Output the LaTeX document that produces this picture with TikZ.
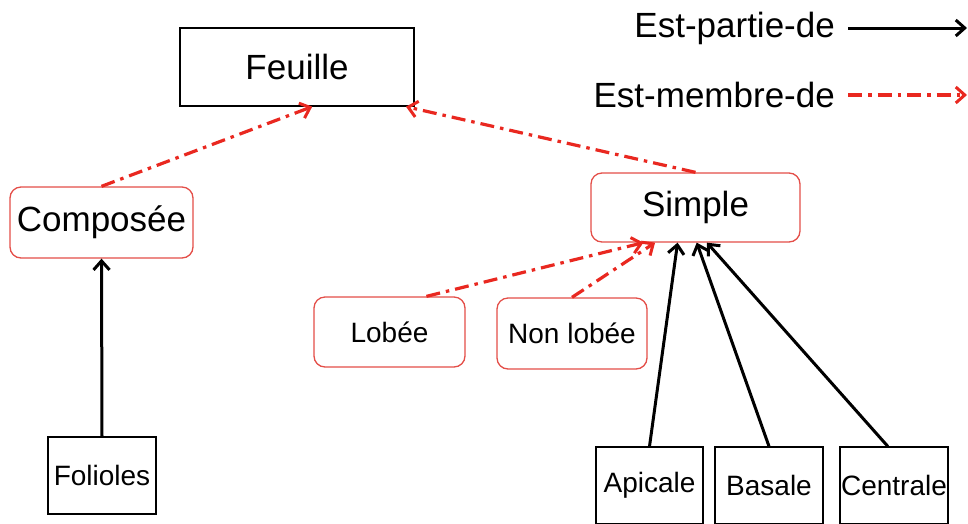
\documentclass[tikz,border=0pt]{standalone}
\usepackage{fontspec}
\setmainfont{Liberation Sans}
\usetikzlibrary{arrows.meta}
\definecolor{membreRed}{RGB}{233,40,32}
\definecolor{boxRed}{RGB}{228,78,72}
\begin{document}
\begin{tikzpicture}[x=1pt, y=-1pt]
%% one unit is one pixel of the original drawing, y grows downwards
\tikzstyle{partArc}=[-{Straight Barb[length=9pt,width=16pt,line width=3pt]},line width=3pt,black]
\tikzstyle{membreArc}=[-{Straight Barb[length=9pt,width=16pt,line width=3pt]},line width=3.2pt,membreRed,dash pattern=on 14pt off 6pt on 3.5pt off 6pt]
\tikzstyle{classe}=[draw=black,line width=1.3pt,inner sep=0pt,fill=white]
\tikzstyle{sousClasse}=[draw=boxRed,line width=1.3pt,rounded corners=11pt,inner sep=0pt,fill=white]
\tikzstyle{bigText}=[font=\fontsize{35}{40}\selectfont]
\tikzstyle{smallText}=[font=\fontsize{28}{32}\selectfont]
\useasboundingbox (0,0) rectangle (968,523);
%% legend
\node[bigText,anchor=east,inner sep=0pt] at (835,28) (partie) {Est-partie-de};
\node[bigText,anchor=east,inner sep=0pt] at (835,95) (membre) {Est-membre-de};
\coordinate (partieEnd) at (967,28);
\coordinate (membreEnd) at (967,95);
\draw[partArc] ([xshift=13pt]partie.east) -- (partieEnd);
\draw[membreArc] ([xshift=13pt]membre.east) -- (membreEnd);
%% classes
\node[classe,bigText,minimum width=234pt,minimum height=78pt] at (297,67) (Feuille) {Feuille};
\node[sousClasse,bigText,minimum width=183pt,minimum height=71pt] at (101.5,222.5) (Composee) {Composée};
\node[sousClasse,bigText,minimum width=209pt,minimum height=69pt] at (695.5,207.5) (Simple) {Simple};
\node[sousClasse,smallText,minimum width=151pt,minimum height=70pt] at (389.5,332) (Lobee) {\raisebox{-3pt}{Lobée}};
\node[sousClasse,smallText,minimum width=150pt,minimum height=71pt] at (572,333.5) (NonLobee) {Non lobée};
%% parts
\node[classe,smallText,minimum width=108pt,minimum height=77pt] at (102,475.5) (Folioles) {Folioles};
\node[classe,smallText,minimum width=107pt,minimum height=77pt] at (649.5,485.5) (Apicale) {\raisebox{-3pt}{Apicale}};
\node[classe,smallText,minimum width=108pt,minimum height=77pt] at (769,485.5) (Basale) {\raisebox{-2pt}{Basale}};
\node[classe,smallText,minimum width=108pt,minimum height=77pt] at (894,485.5) (Centrale) {\raisebox{-2pt}{Centrale}};
%% Est-membre-de arcs
\draw[membreArc] (Composee.north) -- (Feuille.-69);
\draw[membreArc] (Simple.north) -- (Feuille.-20);
\draw[membreArc] (Lobee.44) -- (Simple.-146);
\draw[membreArc] (NonLobee.north) -- (Simple.-139);
%% Est-partie-de arcs
\draw[partArc] (Folioles.north) -- (Composee.south);
\draw[partArc] (Apicale.north) -- (Simple.-117);
\draw[partArc] (Basale.north) -- (Simple.-88);
\draw[partArc] (Centrale.99) -- (Simple.-72);
\end{tikzpicture}
\end{document}
